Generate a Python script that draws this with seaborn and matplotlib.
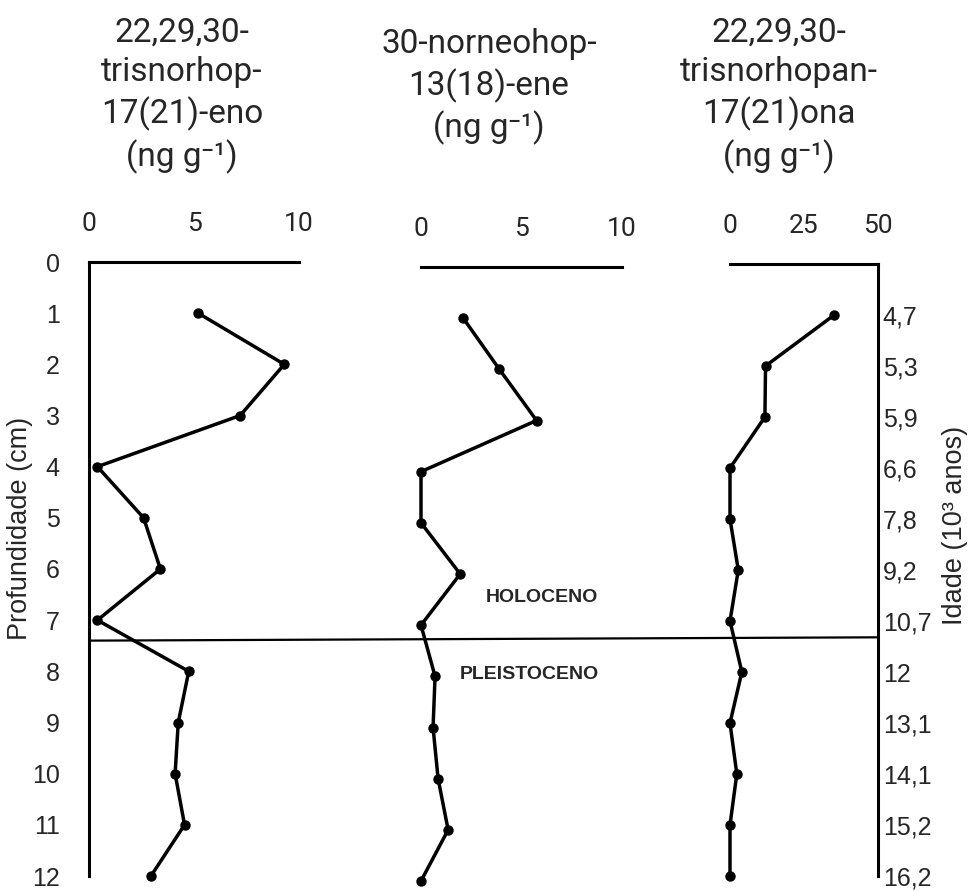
import matplotlib
matplotlib.use("Agg")
import matplotlib.pyplot as plt
import seaborn as sns

# ---- data ----
depth = [1, 2, 3, 4, 5, 6, 7, 8, 9, 10, 11, 12]
trisnorhop_eno = [5.2, 9.3, 7.2, 0.4, 2.6, 3.4, 0.4, 4.75, 4.25, 4.1, 4.55, 2.95]
norneohop_ene = [2.1, 3.9, 5.75, 0.0, 0.0, 1.95, 0.0, 0.7, 0.6, 0.85, 1.35, 0.0]
trisnorhopan_ona = [35.2, 12.0, 11.8, 0.0, 0.0, 2.8, 0.0, 4.0, 0.0, 2.3, 0.0, 0.0]
ages = ["4,7", "5,3", "5,9", "6,6", "7,8", "9,2", "10,7", "12", "13,1", "14,1", "15,2", "16,2"]
depth_ticks = [0, 1, 2, 3, 4, 5, 6, 7, 8, 9, 10, 11, 12]
titles = ["22,29,30-\ntrisnorhop-\n17(21)-eno\n(ng g\u207b\u00b9)",
          "30-norneohop-\n13(18)-ene\n(ng g\u207b\u00b9)",
          "22,29,30-\ntrisnorhopan-\n17(21)ona\n(ng g\u207b\u00b9)"]
xticks1 = [0, 5, 10]
xticks3 = [0, 25, 50]
boundary_left, boundary_right = 7.40, 7.32

sns.set_style("white")
plt.rcParams["font.family"] = ["Liberation Sans", "DejaVu Sans"]
TFONT = ["Roboto", "DejaVu Sans"]

W, H = 971, 891
fig = plt.figure(figsize=(W / 100, H / 100), dpi=100)


def px_axes(l, r, t, b):
    return fig.add_axes([l / W, 1 - b / H, (r - l) / W, (b - t) / H])


ax1 = px_axes(89, 299, 262, 876)
ax2 = px_axes(421, 622, 267, 881)
ax3 = px_axes(730, 878, 264, 876)

for ax, vals, xt in [(ax1, trisnorhop_eno, xticks1), (ax2, norneohop_ene, xticks1),
                     (ax3, trisnorhopan_ona, xticks3)]:
    sns.lineplot(x=vals, y=depth, ax=ax, sort=False, estimator=None, color="black",
                 lw=2.5, marker="o", markersize=7.5, markeredgewidth=0, clip_on=False)
    ax.set_xlim(xt[0], xt[-1])
    ax.set_ylim(12, 0)
    ax.set_facecolor("none")
    ax.xaxis.tick_top()
    ax.set_xticks(xt)
    ax.set_xticklabels([str(v) for v in xt], fontsize=19, family=TFONT)
    ax.tick_params(axis="x", length=0, pad=19)
    ax.set_xlabel("")
    ax.set_ylabel("")
    for s in ax.spines.values():
        s.set_visible(False)
        s.set_linewidth(2.2)
        s.set_color("black")
    ax.spines["top"].set_visible(True)

ax1.spines["left"].set_visible(True)
ax1.set_yticks(depth_ticks)
ax1.set_yticklabels([str(d) for d in depth_ticks], fontsize=18)
ax1.tick_params(axis="y", length=0, pad=21)

ax2.set_yticks([])

ax3.spines["right"].set_visible(True)
ax3.yaxis.tick_right()
ax3.set_yticks(depth)
ax3.set_yticklabels(ages, fontsize=18)
ax3.tick_params(axis="y", length=0, pad=3.5)

# titles
fig.text(182 / W, 1 - 17 / H, titles[0], ha="center", va="top", fontsize=24,
         family=TFONT, linespacing=1.3)
fig.text(489 / W, 1 - 28 / H, titles[1], ha="center", va="top", fontsize=24,
         family=TFONT, linespacing=1.3)
fig.text(779 / W, 1 - 17 / H, titles[2], ha="center", va="top", fontsize=24,
         family=TFONT, linespacing=1.3)

# axis labels
fig.text(20 / W, 1 - 528 / H, "Profundidade (cm)", rotation=90, ha="center",
         va="center", fontsize=19.5)
fig.text(955 / W, 1 - 525 / H, "Idade (10\u00b3 anos)", rotation=90, ha="center",
         va="center", fontsize=19.5)

# epoch labels
ax2.text(6, 6.45, "HOLOCENO", ha="center", va="center", fontsize=14,
         fontweight="bold")
ax2.text(5.4, 7.97, "PLEISTOCENO", ha="center", va="center", fontsize=14,
         fontweight="bold")

# boundary line
fig.canvas.draw()
p0 = fig.transFigure.inverted().transform(ax1.transData.transform((0, boundary_left)))
p1 = fig.transFigure.inverted().transform(ax3.transData.transform((50, boundary_right)))
fig.add_artist(plt.Line2D([p0[0], p1[0]], [p0[1], p1[1]], transform=fig.transFigure,
                          color="black", lw=1.6))

fig.savefig("out.png", dpi=100)
